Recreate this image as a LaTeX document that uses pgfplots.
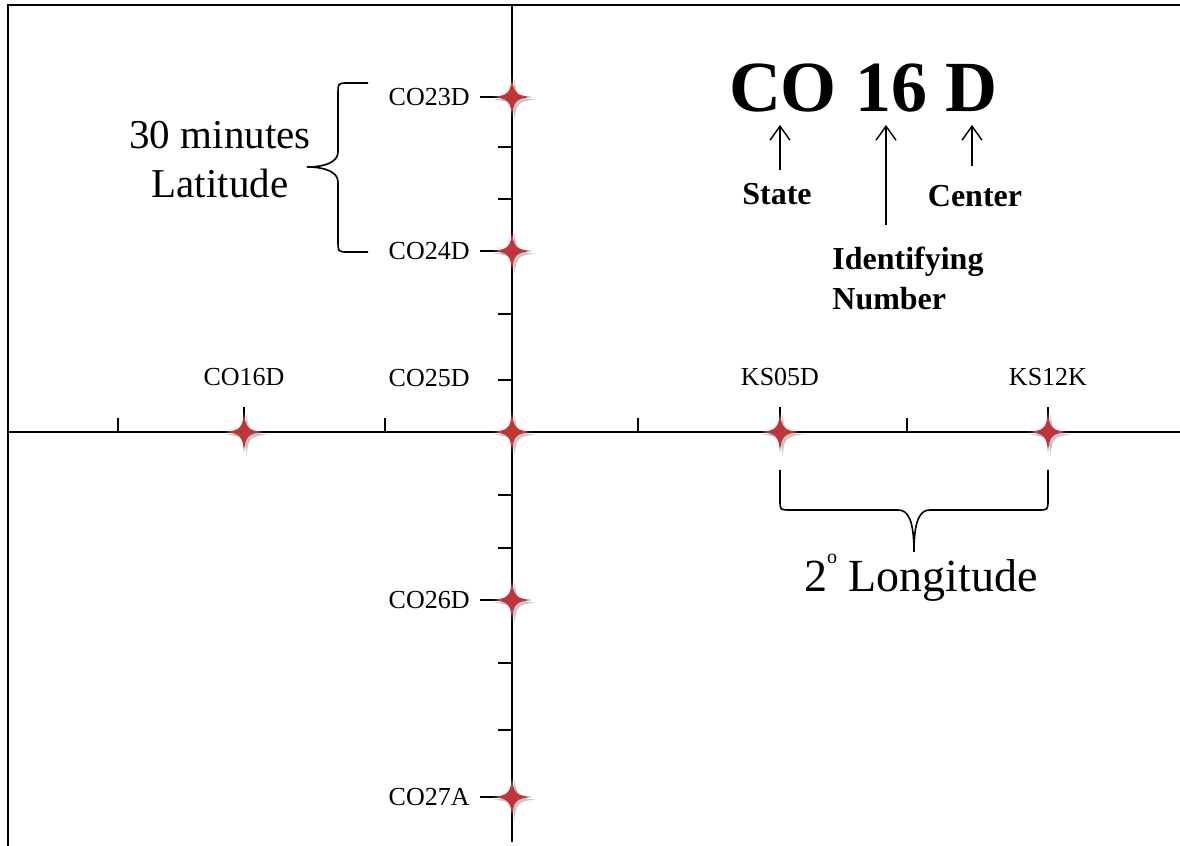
\documentclass[border=0pt]{standalone}
\usepackage{fontspec}
\setmainfont{Liberation Serif}
\usepackage{pgfplots}
\pgfplotsset{compat=1.18}
\usetikzlibrary{arrows.meta}

\definecolor{starred}{RGB}{192,52,58}

% four pointed star, with a soft shadow
\newcommand\starpath[1]{%
  \pgfpathmoveto{\pgfqpoint{#1\pgfplotmarksize}{0pt}}%
  \pgfpathcurveto{\pgfqpoint{0.2\pgfplotmarksize}{0.07\pgfplotmarksize}}{\pgfqpoint{0.07\pgfplotmarksize}{0.2\pgfplotmarksize}}{\pgfqpoint{0pt}{#1\pgfplotmarksize}}%
  \pgfpathcurveto{\pgfqpoint{-0.07\pgfplotmarksize}{0.2\pgfplotmarksize}}{\pgfqpoint{-0.2\pgfplotmarksize}{0.07\pgfplotmarksize}}{\pgfqpoint{-#1\pgfplotmarksize}{0pt}}%
  \pgfpathcurveto{\pgfqpoint{-0.2\pgfplotmarksize}{-0.07\pgfplotmarksize}}{\pgfqpoint{-0.07\pgfplotmarksize}{-0.2\pgfplotmarksize}}{\pgfqpoint{0pt}{-#1\pgfplotmarksize}}%
  \pgfpathcurveto{\pgfqpoint{0.07\pgfplotmarksize}{-0.2\pgfplotmarksize}}{\pgfqpoint{0.2\pgfplotmarksize}{-0.07\pgfplotmarksize}}{\pgfqpoint{#1\pgfplotmarksize}{0pt}}%
  \pgfpathclose}
\pgfdeclareplotmark{star4}{%
  \begin{pgfscope}
    \pgftransformshift{\pgfqpoint{1.3pt}{-1.3pt}}%
    \pgfsetfillcolor{black}\pgfsetfillopacity{0.22}%
    \starpath{1.05}\pgfusepathqfill
  \end{pgfscope}
  \pgfsetfillcolor{starred}%
  \starpath{1}\pgfusepathqfill}

% stations, in px from the centre station
\pgfplotstableread{
x y label
-268 0 CO16D
268 0 KS05D
536 0 KS12K
}\lonstations
\pgfplotstableread{
x y label
0 335 CO23D
0 181 CO24D
0 -168 CO26D
0 -365 CO27A
}\latstations

\begin{document}
\begin{tikzpicture}
\begin{axis}[
    x=0.5pt, y=0.5pt,
    xmin=-504, xmax=668, ymin=-410, ymax=427,
    axis lines=middle,
    axis line style={-, line width=1pt},
    every tick/.style={black, line width=1pt},
    xtick={-394,-127,126,395},
    ytick={285,233,118,52,-63,-116,-231,-298},
    xticklabels={}, yticklabels={},
    extra x ticks={-268,268,536},
    extra y ticks={335,181,-168,-365},
    extra x tick labels={}, extra y tick labels={},
    xtick align=inside, ytick align=outside,
    major tick length=7pt,
    extra x tick style={major tick length=12.5pt},
    extra y tick style={major tick length=16pt},
    clip=false,
]
\addplot[black, only marks, mark=star4, mark size=10pt,
    nodes near coords, point meta=explicit symbolic,
    every node near coord/.append style={anchor=base, inner sep=0pt, yshift=23pt, font=\fontsize{13}{15}\selectfont}]
    table[x=x, y=y, meta=label] {\lonstations};
\addplot[black, only marks, mark=star4, mark size=10pt,
    nodes near coords, point meta=explicit symbolic,
    every node near coord/.append style={anchor=east, inner sep=0pt, xshift=-21pt, yshift=0pt, font=\fontsize{13}{15}\selectfont}]
    table[x=x, y=y, meta=label] {\latstations};
\addplot[black, only marks, mark=star4, mark size=10pt,
    nodes near coords, point meta=explicit symbolic,
    every node near coord/.append style={anchor=east, inner sep=0pt, xshift=-21pt, yshift=27pt, font=\fontsize{13}{15}\selectfont}]
    table[x=x, y=y, meta=label] {
x y label
0 0 CO25D
};

% frame
\draw[line width=1pt] (axis cs:-504,-414) -- (axis cs:-504,427) -- (axis cs:668,427);

% 30 minutes brace
\draw[line width=0.8pt] (axis cs:-144,349) -- (axis cs:-164,349)
  .. controls (axis cs:-174,349) .. (axis cs:-174,337) -- (axis cs:-174,280)
  .. controls (axis cs:-174,270) and (axis cs:-187,265) .. (axis cs:-205,265)
  .. controls (axis cs:-187,265) and (axis cs:-174,260) .. (axis cs:-174,250)
  -- (axis cs:-174,192) .. controls (axis cs:-174,180) .. (axis cs:-164,180) -- (axis cs:-144,180);
\node[font=\fontsize{20.5}{24.5}\selectfont, align=center] at (axis cs:-292,272) {30 minutes\\Latitude};

% 2 degree brace
\draw[line width=0.8pt] (axis cs:268,-38) -- (axis cs:268,-68)
  .. controls (axis cs:268,-78) .. (axis cs:278,-78) -- (axis cs:386,-78)
  .. controls (axis cs:396,-78) and (axis cs:402,-88) .. (axis cs:402,-120)
  .. controls (axis cs:402,-88) and (axis cs:408,-78) .. (axis cs:418,-78)
  -- (axis cs:526,-78) .. controls (axis cs:536,-78) .. (axis cs:536,-68) -- (axis cs:536,-38);
\node[font=\fontsize{23}{27}\selectfont] at (axis cs:409,-146) {2\raisebox{0.62em}{\fontsize{10}{10}\selectfont o} Longitude};

% identifier legend
\node[font=\bfseries\fontsize{36}{40}\selectfont] at (axis cs:351,344) {CO 16 D};
\draw[line width=0.7pt, -{Straight Barb[length=7pt, width=10pt]}] (axis cs:268,262) -- (axis cs:268,307);
\draw[line width=0.7pt, -{Straight Barb[length=7pt, width=10pt]}] (axis cs:374,207) -- (axis cs:374,307);
\draw[line width=0.7pt, -{Straight Barb[length=7pt, width=10pt]}] (axis cs:460,266) -- (axis cs:460,307);
\node[font=\bfseries\fontsize{16}{19}\selectfont] at (axis cs:265,238) {State};
\node[font=\bfseries\fontsize{16}{19}\selectfont] at (axis cs:463,236) {Center};
\node[font=\bfseries\fontsize{16}{20}\selectfont, align=left, anchor=west, inner sep=0pt] at (axis cs:320,154) {Identifying\\Number};

\coordinate (bl) at (axis cs:-512,-414);
\coordinate (tr) at (axis cs:668,432);
\end{axis}
\pgfresetboundingbox
\useasboundingbox (bl) rectangle (tr);
\end{tikzpicture}
\end{document}
